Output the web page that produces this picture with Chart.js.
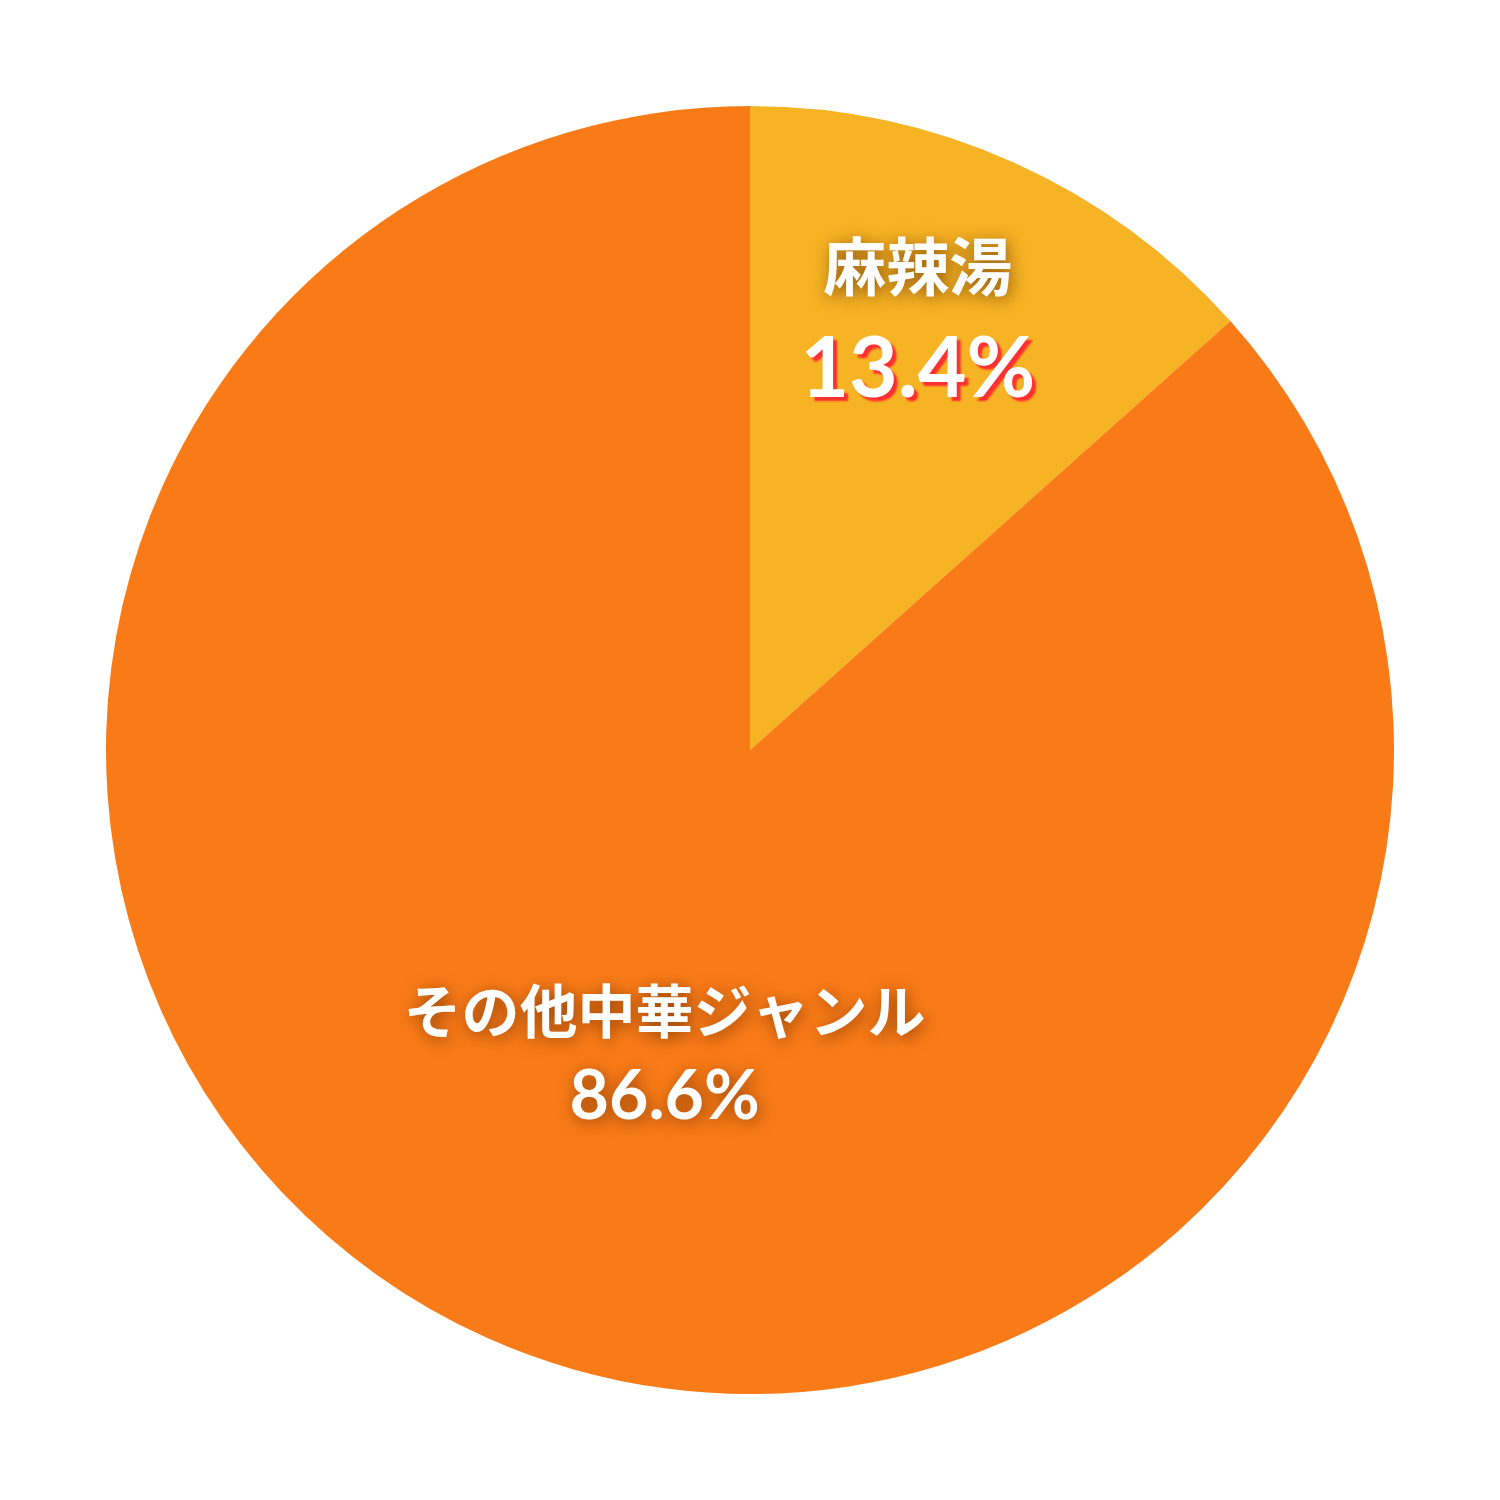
<!DOCTYPE html>
<html><head><meta charset="utf-8">
<script src="https://cdn.jsdelivr.net/npm/chart.js@4"></script>
<style>html,body{margin:0;padding:0;background:#fff}#w{width:1500px;height:1500px}</style>
</head><body><div id="w"><canvas id="c"></canvas></div>
<script>
const categories = ["麻辣湯", "その他中華ジャンル"];
const shares = [13.4, 86.6];
const shareLabels = ["13.4%", "86.6%"];
const colors = ["#F6B323", "#F97B17"];

const labelPlugin = {
  id: 'sliceLabels',
  afterDatasetsDraw(chart) {
    const ctx = chart.ctx;
    const meta = chart.getDatasetMeta(0);
    const cfg = [
      {t:0.44, f:0.72, nameSize:63, valSize:84, gap:104, valShadow:'red'},
      {t:0.473, f:0.49, nameSize:58, valSize:68, gap:86, valShadow:'dark'}
    ];
    meta.data.forEach((arc, i) => {
      const c = cfg[i];
      const a = arc.startAngle + c.t * (arc.endAngle - arc.startAngle);
      const r = arc.outerRadius * c.f;
      const x = arc.x + Math.cos(a) * r;
      const y = arc.y + Math.sin(a) * r;
      ctx.save();
      ctx.textAlign = 'center';
      ctx.textBaseline = 'middle';
      ctx.fillStyle = '#fff';
      ctx.shadowColor = 'rgba(80,30,0,0.6)';
      ctx.shadowBlur = 16;
      ctx.shadowOffsetX = 2; ctx.shadowOffsetY = 3;
      ctx.font = `bold ${c.nameSize}px "Noto Sans CJK JP"`;
      ctx.fillText(chart.data.labels[i], x, y - c.gap/2);
      ctx.font = `bold ${c.valSize}px Lato, "Noto Sans CJK JP"`;
      if (c.valShadow === 'red') {
        ctx.shadowColor = '#FF3030';
        ctx.shadowBlur = 2;
        ctx.shadowOffsetX = 4; ctx.shadowOffsetY = 4;
      }
      ctx.fillText(shareLabels[i], x, y + c.gap/2);
      ctx.restore();
    });
  }
};

new Chart(document.getElementById('c'), {
  type: 'pie',
  data: {
    labels: categories,
    datasets: [{ data: shares, backgroundColor: colors, borderWidth: 0 }]
  },
  options: {
    responsive: true,
    maintainAspectRatio: false,
    animation: false,
    layout: { padding: 106 },
    plugins: { legend: { display: false }, tooltip: { enabled: false } }
  },
  plugins: [labelPlugin]
});
</script>
</body></html>
